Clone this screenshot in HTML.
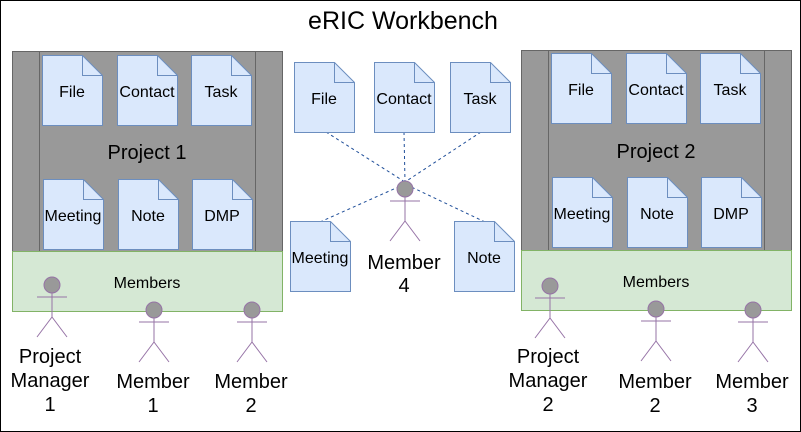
<!DOCTYPE html>
<html><head><meta charset="utf-8"><style>
html,body{margin:0;padding:0;background:#fff}
svg{display:block}
text{font-family:"Liberation Sans",Arial,sans-serif;fill:#000}
</style></head><body>
<svg width="801" height="432" viewBox="0 0 801 432" xmlns="http://www.w3.org/2000/svg">
<defs>
<g id="doc"><path d="M0.5,0.5 H40.5 L60.5,20.5 V70.5 H0.5 Z" fill="#dae8fc" stroke="#6c8ebf"/><path d="M40.5,0.5 V20.5 H60.5" fill="none" stroke="#6c8ebf"/></g>
<g id="act" stroke="#9673a6" fill="none"><circle cx="0" cy="0" r="8" fill="#999999" stroke="#9673a6"/><path d="M0,8 V32 M-15,12 H15 M0,32 L-15,52 M0,32 L15,52"/></g>
</defs>
<rect x="0.5" y="0.5" width="800" height="431" fill="#fff" stroke="#000"/>
<text x="403" y="29" font-size="25" text-anchor="middle">eRIC Workbench</text>

<!-- Project 1 -->
<rect x="12.5" y="51.5" width="270" height="200" fill="#999999" stroke="#666"/>
<path d="M39.5,51.5 V251.5 M255.5,51.5 V251.5" stroke="#666"/>
<use href="#doc" x="42" y="55"/><use href="#doc" x="117" y="55"/><use href="#doc" x="191" y="55"/>
<use href="#doc" x="43" y="179"/><use href="#doc" x="118" y="179"/><use href="#doc" x="192" y="179"/>
<g font-size="16" text-anchor="middle">
<text x="72" y="97">File</text><text x="147" y="97">Contact</text><text x="221" y="97">Task</text>
<text x="73" y="221">Meeting</text><text x="148" y="221">Note</text><text x="222" y="221">DMP</text>
</g>
<text x="147" y="159" font-size="20" text-anchor="middle">Project 1</text>
<rect x="12.5" y="251.5" width="270" height="60" fill="#d5e8d4" stroke="#82b366"/>
<text x="147" y="288" font-size="16" text-anchor="middle">Members</text>

<!-- Project 2 -->
<rect x="521.5" y="50.5" width="270" height="200" fill="#999999" stroke="#666"/>
<path d="M548.5,50.5 V250.5 M764.5,50.5 V250.5" stroke="#666"/>
<use href="#doc" x="551" y="53"/><use href="#doc" x="626" y="53"/><use href="#doc" x="700" y="53"/>
<use href="#doc" x="552" y="177"/><use href="#doc" x="627" y="177"/><use href="#doc" x="701" y="177"/>
<g font-size="16" text-anchor="middle">
<text x="581" y="95">File</text><text x="656" y="95">Contact</text><text x="730" y="95">Task</text>
<text x="582" y="219">Meeting</text><text x="657" y="219">Note</text><text x="731" y="219">DMP</text>
</g>
<text x="656" y="158" font-size="20" text-anchor="middle">Project 2</text>
<rect x="521.5" y="250.5" width="270" height="60" fill="#d5e8d4" stroke="#82b366"/>
<text x="656" y="287" font-size="16" text-anchor="middle">Members</text>

<!-- Center -->
<g stroke="#1f4e99" stroke-dasharray="3,3" fill="none">
<path d="M326,132 L405,182 M404,132 L405,182 M481,132 L405,182 M320,222 L405,184 M485,222 L405,184"/>
</g>
<use href="#doc" x="294" y="62"/><use href="#doc" x="374" y="62"/><use href="#doc" x="450" y="62"/>
<use href="#doc" x="290" y="221"/><use href="#doc" x="454" y="221"/>
<g font-size="16" text-anchor="middle">
<text x="324" y="104">File</text><text x="404" y="104">Contact</text><text x="480" y="104">Task</text>
<text x="320" y="263">Meeting</text><text x="484" y="263">Note</text>
</g>
<use href="#act" x="405" y="189"/>
<text font-size="20" text-anchor="middle"><tspan x="404" y="269">Member</tspan><tspan x="404" y="292">4</tspan></text>

<!-- Actors -->
<use href="#act" x="52" y="285"/>
<use href="#act" x="154" y="310"/>
<use href="#act" x="252" y="310"/>
<use href="#act" x="550" y="286"/>
<use href="#act" x="656" y="309"/>
<use href="#act" x="753" y="310"/>
<g font-size="20" text-anchor="middle">
<text><tspan x="50" y="363">Project</tspan><tspan x="50" y="387">Manager</tspan><tspan x="50" y="411">1</tspan></text>
<text><tspan x="153" y="388">Member</tspan><tspan x="153" y="412">1</tspan></text>
<text><tspan x="251" y="388">Member</tspan><tspan x="251" y="412">2</tspan></text>
<text><tspan x="548" y="363">Project</tspan><tspan x="548" y="387">Manager</tspan><tspan x="548" y="411">2</tspan></text>
<text><tspan x="655" y="388">Member</tspan><tspan x="655" y="412">2</tspan></text>
<text><tspan x="752" y="388">Member</tspan><tspan x="752" y="412">3</tspan></text>
</g>
</svg>
</body></html>
